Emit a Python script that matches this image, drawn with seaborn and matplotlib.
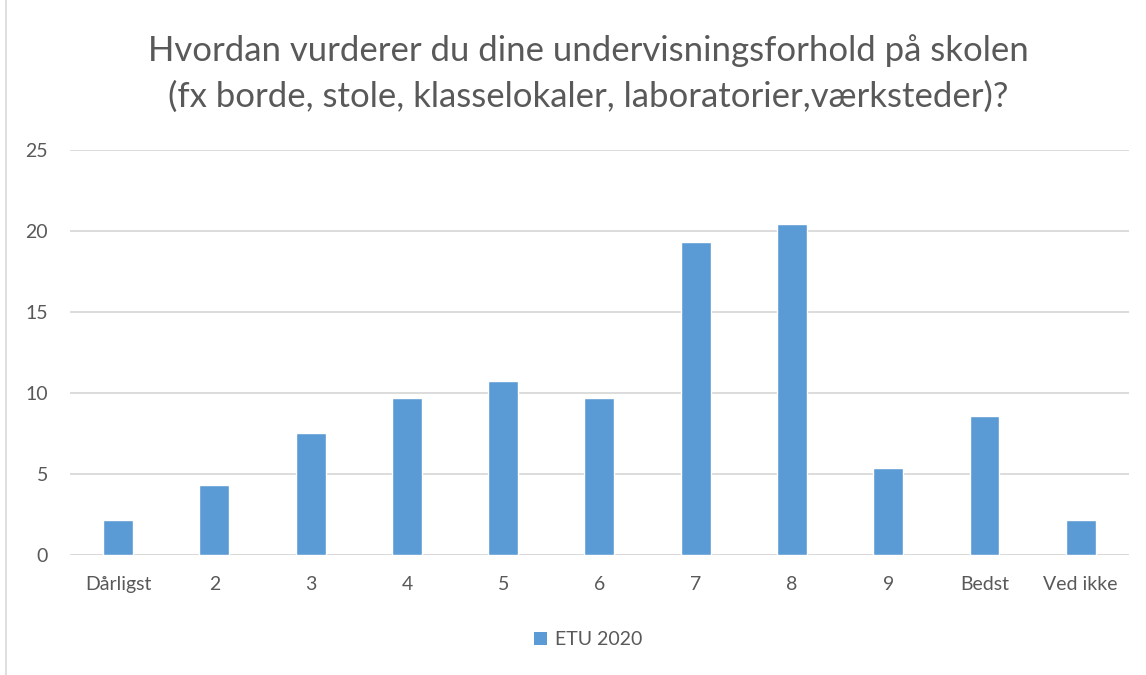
import matplotlib
matplotlib.use("Agg")
import matplotlib.pyplot as plt
import seaborn as sns
import pandas as pd
from matplotlib.lines import Line2D
from matplotlib.patches import Patch

categories = ["Dårligst", "2", "3", "4", "5", "6", "7", "8", "9", "Bedst", "Ved ikke"]
values = [2.15, 4.30, 7.53, 9.68, 10.75, 9.68, 19.35, 20.43, 5.38, 8.60, 2.15]
series_name = "ETU 2020"
title = ("Hvordan vurderer du dine undervisningsforhold på skolen\n"
         "(fx borde, stole, klasselokaler, laboratorier,værksteder)?")

sns.set_style("white")
plt.rcParams["font.family"] = ["Lato", "DejaVu Sans"]

bar_color = "#5B9BD5"
text_color = "#595959"
grid_color = "#D9D9D9"

df = pd.DataFrame({"kategori": categories, "andel": values})

fig = plt.figure(figsize=(11.46, 6.75), dpi=100)
ax = fig.add_axes([0.0611, 0.1778, 0.9239, 0.6])

sns.barplot(data=df, x="kategori", y="andel", color=bar_color, width=0.31,
            saturation=1, ax=ax, zorder=3)

ax.set_ylim(0, 25)
ax.set_xlim(-0.5, len(categories) - 0.5)
ax.set_yticks([0, 5, 10, 15, 20, 25])
ax.yaxis.grid(True, color=grid_color, linewidth=1.3, zorder=0)
ax.set_axisbelow(True)
for s in ax.spines.values():
    s.set_visible(False)
ax.axhline(0, color=grid_color, linewidth=1.3, zorder=1)
ax.set_xlabel("")
ax.set_ylabel("")
ax.tick_params(axis="both", length=0, labelsize=14, colors=text_color)
ax.tick_params(axis="x", pad=15)
ax.tick_params(axis="y", pad=16)

fig.text(0.513, 0.891, title, ha="center", va="center", fontsize=25,
         color=text_color, linespacing=1.5)

handle = Patch(facecolor=bar_color, edgecolor="none")
fig.legend([handle], [series_name], loc="center", bbox_to_anchor=(0.513, 0.052),
           frameon=False, fontsize=14, labelcolor=text_color,
           handlelength=0.7, handleheight=0.7, handletextpad=0.4)

fig.add_artist(Line2D([0.005, 0.005], [0, 1], transform=fig.transFigure,
                      color=grid_color, linewidth=1.2))

fig.savefig("out.png", dpi=100)
